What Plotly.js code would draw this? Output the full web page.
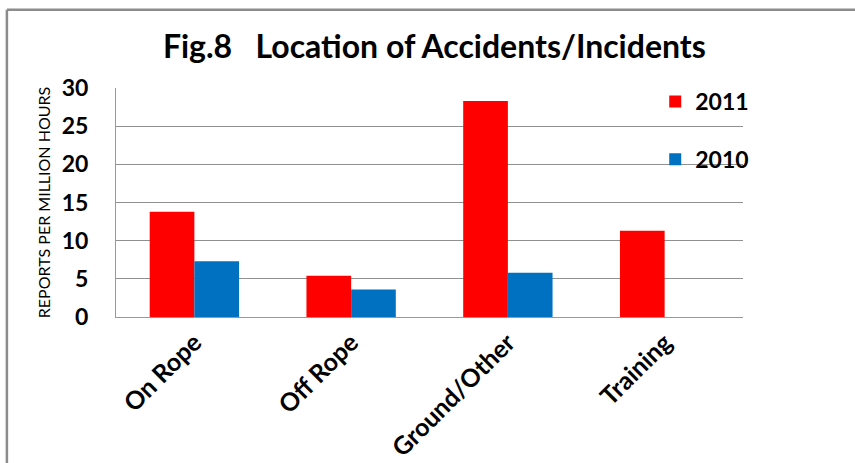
<!DOCTYPE html>
<html>
<head>
<meta charset="utf-8">
<script src="https://cdn.plot.ly/plotly-3.0.1.min.js"></script>
<style>
  html, body { margin: 0; padding: 0; background: #fff; }
  #chart { width: 855px; height: 463px; }
</style>
</head>
<body>
<div id="chart"></div>
<script>
// categories and values
var locations = ["On Rope", "Off Rope", "Ground/Other", "Training"];
var reports2011 = [13.8, 5.4, 28.3, 11.3];
var reports2010 = [7.3, 3.6, 5.8, null];

var trace2011 = {
  x: locations,
  y: reports2011,
  type: "bar",
  name: "2011",
  legendgroup: "a",
  marker: { color: "#ff0000" }
};

var trace2010 = {
  x: locations,
  y: reports2010,
  type: "bar",
  name: "2010",
  legendgroup: "b",
  marker: { color: "#0070c0" }
};

var data = [trace2011, trace2010];

var layout = {
  width: 855,
  height: 463,
  margin: { l: 116, r: 112, t: 88, b: 146 },
  paper_bgcolor: "#fff",
  plot_bgcolor: "#fff",
  font: { family: "Lato, sans-serif", color: "#000" },
  title: {
    text: "<b>Fig.8   Location of Accidents/Incidents</b>",
    font: { size: 32, family: "Lato, sans-serif" },
    x: 0.508,
    xanchor: "center",
    y: 0.9,
    yanchor: "middle"
  },
  barmode: "group",
  bargap: 0.43,
  bargroupgap: 0,
  xaxis: {
    tickangle: -45,
    tickfont: { size: 25, family: "Lato, sans-serif", weight: "bold" },
    showline: true,
    linecolor: "#999",
    linewidth: 1,
    ticks: ""
  },
  yaxis: {
    range: [0, 30],
    dtick: 5,
    showgrid: true,
    gridcolor: "#909090",
    gridwidth: 1,
    showline: true,
    linecolor: "#999",
    zeroline: false,
    ticks: "",
    ticklabelstandoff: 22,
    tickfont: { size: 23, family: "Lato, sans-serif", weight: "bold" },
    title: {
      text: "REPORTS PER MILLION HOURS",
      font: { size: 16, family: "Lato, sans-serif" },
      standoff: 7
    }
  },
  showlegend: true,
  legend: {
    x: 0.86,
    y: 1.035,
    xanchor: "left",
    yanchor: "top",
    bgcolor: "rgba(0,0,0,0)",
    font: { size: 23, family: "Lato, sans-serif", weight: "bold" },
    traceorder: "grouped",
    tracegroupgap: 25,
    itemwidth: 30
  },
  shapes: [
    { type: "line", xref: "paper", yref: "paper", x0: -0.174, x1: 1.3, y0: 1.342, y1: 1.342,
      line: { color: "#8c8c8c", width: 2.5 } },
    { type: "line", xref: "paper", yref: "paper", x0: -0.174, x1: -0.174, y0: 1.342, y1: -0.8,
      line: { color: "#8c8c8c", width: 2.5 } }
  ]
};

Plotly.newPlot("chart", data, layout, { displayModeBar: false, staticPlot: true });
</script>
</body>
</html>
